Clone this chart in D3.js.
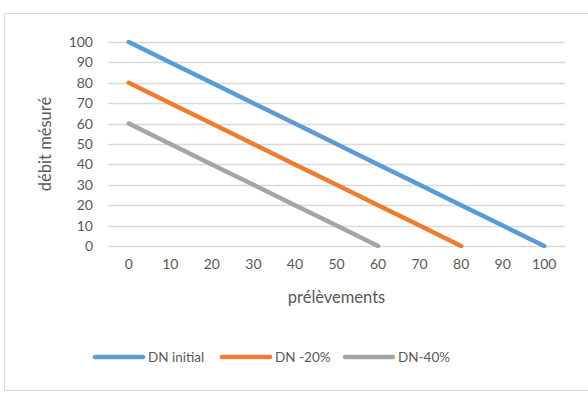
<!DOCTYPE html>
<html>
<head>
<meta charset="utf-8">
<script src="https://cdn.jsdelivr.net/npm/d3@7"></script>
<style>
  html, body { margin: 0; padding: 0; background: #fff; }
  svg { display: block; }
  text { font-family: Lato, "Open Sans", sans-serif; fill: #595959; }
</style>
</head>
<body>
<svg id="chart" width="588" height="408"></svg>
<script>
// Measurements: x categories and the three flow series
const categories = [0, 10, 20, 30, 40, 50, 60, 70, 80, 90, 100];
const dnInitial = [100, 90, 80, 70, 60, 50, 40, 30, 20, 10, 0];
const dn20 = [80, 70, 60, 50, 40, 30, 20, 10, 0, null, null];
const dn40 = [60, 50, 40, 30, 20, 10, 0, null, null, null, null];
const seriesNames = ["DN initial", "DN -20%", "DN-40%"];
const seriesColors = ["#5B9BD5", "#ED7D31", "#A5A5A5"];
const yTicks = [0, 10, 20, 30, 40, 50, 60, 70, 80, 90, 100];

const series = [dnInitial, dn20, dn40].map((vals, i) => ({
  name: seriesNames[i],
  color: seriesColors[i],
  values: categories.map((c, j) => ({ x: c, y: vals[j] }))
}));

const svg = d3.select("#chart");

// chart frame
svg.append("rect")
  .attr("x", 4.5).attr("y", 13.5)
  .attr("width", 620).attr("height", 377)
  .attr("fill", "#fff").attr("stroke", "#D9D9D9").attr("stroke-width", 1);

const plot = { left: 108, right: 565, top: 42, bottom: 246 };

const x = d3.scaleBand()
  .domain(categories)
  .range([plot.left, plot.right])
  .paddingInner(0).paddingOuter(0);

const y = d3.scaleLinear()
  .domain([0, 100])
  .range([plot.bottom, plot.top]);

// horizontal gridlines
svg.append("g")
  .selectAll("line")
  .data(yTicks)
  .join("line")
  .attr("x1", plot.left).attr("x2", plot.right)
  .attr("y1", d => Math.round(y(d)) + 0.5)
  .attr("y2", d => Math.round(y(d)) + 0.5)
  .attr("stroke", "#D9D9D9").attr("stroke-width", 1.5);

// y axis labels
const yAxis = d3.axisLeft(y).tickValues(yTicks).tickSize(0).tickPadding(0);
const gy = svg.append("g")
  .attr("transform", `translate(${plot.left - 15},0)`)
  .call(yAxis);
gy.select(".domain").remove();
gy.selectAll("text")
  .attr("font-size", 14)
  .attr("font-family", "Lato, 'Open Sans', sans-serif")
  .attr("fill", "#595959");

// x axis labels
const xAxis = d3.axisBottom(x).tickSize(0).tickPadding(0);
const gx = svg.append("g")
  .attr("transform", `translate(0,${plot.bottom + 13})`)
  .call(xAxis);
gx.select(".domain").remove();
gx.selectAll("text")
  .attr("font-size", 14)
  .attr("font-family", "Lato, 'Open Sans', sans-serif")
  .attr("fill", "#595959");

// axis titles
svg.append("text")
  .attr("x", (plot.left + plot.right) / 2)
  .attr("y", 303)
  .attr("text-anchor", "middle")
  .attr("font-size", 16.5)
  .text("prélèvements");

svg.append("text")
  .attr("transform", `translate(51,${(plot.top + plot.bottom) / 2}) rotate(-90)`)
  .attr("text-anchor", "middle")
  .attr("font-size", 16.5)
  .text("débit mésuré");

// series lines
const line = d3.line()
  .defined(d => d.y !== null)
  .x(d => x(d.x) + x.bandwidth() / 2)
  .y(d => y(d.y));

svg.append("g")
  .selectAll("path")
  .data(series)
  .join("path")
  .attr("d", d => line(d.values))
  .attr("fill", "none")
  .attr("stroke", d => d.color)
  .attr("stroke-width", 4.5)
  .attr("stroke-linecap", "round")
  .attr("stroke-linejoin", "round");

// legend
const legendX = [95, 222, 345];
const legendY = 357;
const lg = svg.append("g")
  .selectAll("g")
  .data(series)
  .join("g")
  .attr("transform", (d, i) => `translate(${legendX[i]},${legendY})`);
lg.append("line")
  .attr("x1", 0).attr("x2", 48)
  .attr("y1", 0).attr("y2", 0)
  .attr("stroke", d => d.color)
  .attr("stroke-width", 4.5)
  .attr("stroke-linecap", "round");
lg.append("text")
  .attr("x", 53).attr("y", 0)
  .attr("dy", "0.35em")
  .attr("font-size", 13.5)
  .text(d => d.name);
</script>
</body>
</html>
